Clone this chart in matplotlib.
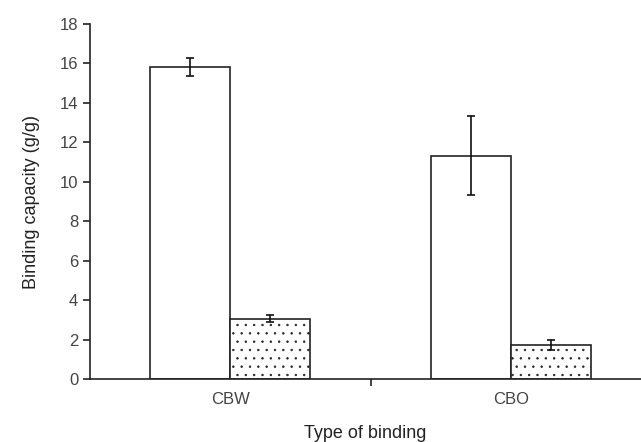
import numpy as np
import matplotlib.pyplot as plt

plt.rcParams['font.family'] = ['Liberation Sans', 'DejaVu Sans']
plt.rcParams['hatch.color'] = '#555555'
plt.rcParams['hatch.linewidth'] = 0.5

# data
categories = ['CBW', 'CBO']
plain_vals = [15.82, 11.33]
plain_err = [0.48, 2.0]
dotted_vals = [3.05, 1.74]
dotted_err = [0.18, 0.25]

fig = plt.figure(figsize=(6.41, 4.42), dpi=100)
ax = fig.add_axes([0.1404, 0.1425, 0.8596, 0.8032])

x = np.arange(len(categories))
w = 0.2857

ax.bar(x - w / 2, plain_vals, width=w, color='white', edgecolor='#222222', linewidth=1.2,
       yerr=plain_err, capsize=3, error_kw=dict(ecolor='#111111', elinewidth=1.2, capthick=1.2))
ax.bar(x + w / 2, dotted_vals, width=w, color='white', edgecolor='#222222', linewidth=1.2,
       hatch='..', yerr=dotted_err, capsize=3,
       error_kw=dict(ecolor='#111111', elinewidth=1.2, capthick=1.2))

ax.set_xlim(-0.5, 1.464)
ax.set_ylim(0, 18)
ax.set_yticks(range(0, 19, 2))

# boundary tick between the groups, labels as minor ticks
ax.set_xticks([0.5])
ax.set_xticklabels([''])
ax.set_xticks(x, minor=True)
ax.set_xticklabels(categories, minor=True)
ax.tick_params(axis='x', which='minor', length=0, pad=9)
ax.tick_params(axis='both', which='major', direction='out', length=5, width=1.2, color='#222222')
ax.tick_params(labelsize=12, labelcolor='#444444')
ax.tick_params(axis='x', which='minor', labelsize=12, labelcolor='#444444')

for s in ['top', 'right']:
    ax.spines[s].set_visible(False)
for s in ['left', 'bottom']:
    ax.spines[s].set_linewidth(1.2)
    ax.spines[s].set_color('#222222')

ax.set_ylabel('Binding capacity (g/g)', fontsize=13, color='#222222', labelpad=14)
ax.set_xlabel('Type of binding', fontsize=13, color='#222222', labelpad=13)

fig.savefig('out.png', dpi=100)
